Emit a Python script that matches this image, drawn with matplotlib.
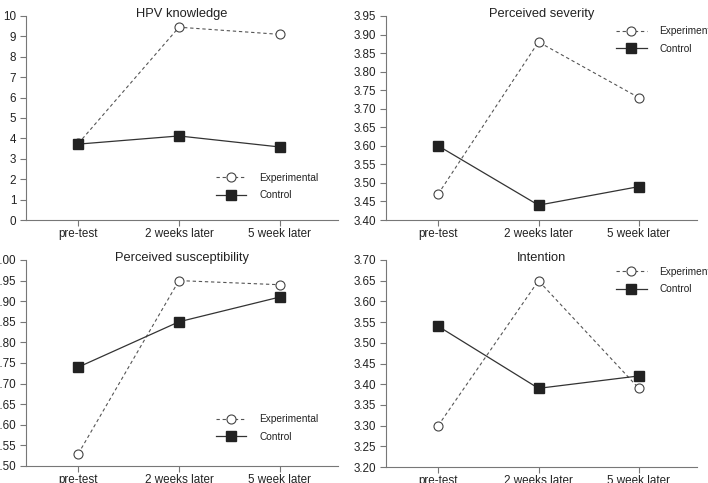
import matplotlib.pyplot as plt
import matplotlib.font_manager as fm

names = {f.name for f in fm.fontManager.ttflist}
narrow = [n for n in ['Liberation Sans Narrow', 'DejaVu Sans Condensed'] if n in names]
plt.rcParams['font.family'] = narrow + ['Liberation Sans', 'DejaVu Sans']
scale = 1.0 if narrow else 0.88

times = ['pre-test', '2 weeks later', '5 week later']

titles = ['HPV knowledge', 'Perceived severity', 'Perceived susceptibility', 'Intention']
experimental = [
    [3.75, 9.45, 9.10],
    [3.47, 3.88, 3.73],
    [2.53, 2.95, 2.94],
    [3.30, 3.65, 3.39],
]
control = [
    [3.72, 4.12, 3.58],
    [3.60, 3.44, 3.49],
    [2.74, 2.85, 2.91],
    [3.54, 3.39, 3.42],
]
yticks = [
    [0, 1, 2, 3, 4, 5, 6, 7, 8, 9, 10],
    [3.40, 3.45, 3.50, 3.55, 3.60, 3.65, 3.70, 3.75, 3.80, 3.85, 3.90, 3.95],
    [2.50, 2.55, 2.60, 2.65, 2.70, 2.75, 2.80, 2.85, 2.90, 2.95, 3.00],
    [3.20, 3.25, 3.30, 3.35, 3.40, 3.45, 3.50, 3.55, 3.60, 3.65, 3.70],
]

# axes rectangles (figure fraction) and legend anchors (axes fraction)
rects = [
    [0.0367, 0.5445, 0.4407, 0.4224],
    [0.5452, 0.5445, 0.4393, 0.4224],
    [0.0367, 0.0352, 0.4407, 0.4265],
    [0.5452, 0.0331, 0.4393, 0.4286],
]
legend_pos = [(0.609, 0.164), (0.74, 0.882), (0.609, 0.184), (0.74, 0.901)]

fig = plt.figure(figsize=(7.08, 4.83), dpi=100)

for i in range(4):
    ax = fig.add_axes(rects[i])
    x = range(len(times))
    ax.plot(x, experimental[i], linestyle=(0, (3, 2.5)), color='#555555', lw=0.8,
            marker='o', markersize=6.5, markerfacecolor='white',
            markeredgecolor='#444444', markeredgewidth=0.8, label='Experimental', zorder=3)
    ax.plot(x, control[i], linestyle='-', color='#333333', lw=0.9,
            marker='s', markersize=6.5, markerfacecolor='#222222',
            markeredgecolor='#222222', label='Control', zorder=4)
    ax.set_xlim(-0.52, 2.58)
    ax.set_ylim(yticks[i][0], yticks[i][-1])
    ax.set_xticks(list(x))
    ax.set_xticklabels(times)
    ax.set_yticks(yticks[i])
    if i == 0:
        ax.set_yticklabels([str(v) for v in yticks[i]])
    else:
        ax.set_yticklabels(['%.2f' % v for v in yticks[i]])
    for s in ['top', 'right']:
        ax.spines[s].set_visible(False)
    for s in ['left', 'bottom']:
        ax.spines[s].set_color('#777777')
        ax.spines[s].set_linewidth(0.8)
    ax.tick_params(direction='out', length=4, width=0.8, color='#777777',
                   labelsize=9.5 * scale, labelcolor='#222222', pad=3)
    ax.tick_params(axis='x', pad=1.5)
    ax.text(0.5, 1.012, titles[i], transform=ax.transAxes, ha='center', va='center',
            fontsize=10.5 * scale, color='#222222')
    ax.legend(loc='center left', bbox_to_anchor=legend_pos[i], frameon=False,
              handlelength=3.0, handletextpad=1.25, labelspacing=0.75,
              fontsize=7.3, labelcolor='#222222', borderaxespad=0, borderpad=0)

fig.savefig('out.png', dpi=100)
